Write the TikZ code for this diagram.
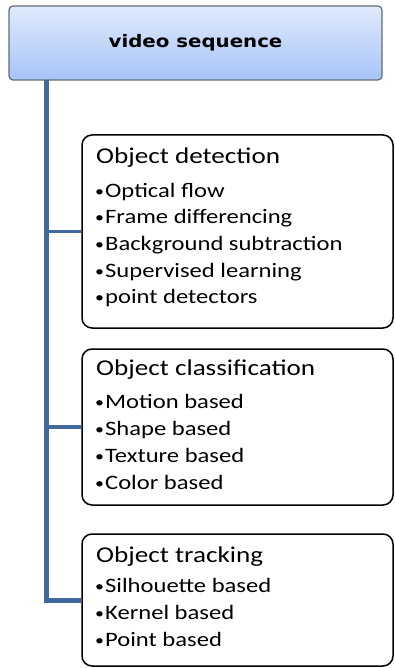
\documentclass[tikz,border=0pt]{standalone}
\usepackage{fontspec}
\setmainfont{Carlito}[FakeStretch=1.2]
\newfontfamily\headfont{DejaVu Sans}[FakeStretch=1.15]
\usetikzlibrary{positioning,calc}
\definecolor{trunk}{HTML}{41699E}
\definecolor{topA}{HTML}{E0EAFC}
\definecolor{topB}{HTML}{A6C4F7}
\definecolor{topEdge}{HTML}{5F6B78}
\tikzset{
  headbox/.style={draw=topEdge, line width=1.2pt, rounded corners=4pt,
    top color=topA, bottom color=topB, minimum width=373pt, minimum height=74pt,
    inner sep=0pt, font=\headfont\bfseries\fontsize{17.2}{20}\selectfont},
  catbox/.style={draw=black, line width=1.5pt, rounded corners=10pt, fill=white,
    minimum width=311pt, inner sep=0pt},
  conn/.style={draw=trunk, line width=5pt},
  branch/.style={draw=trunk, line width=3.8pt},
  ttl/.style={anchor=base west, inner sep=0pt, font=\fontsize{22.6}{24}\selectfont},
  itm/.style={anchor=base west, inner sep=0pt, font=\fontsize{20.5}{24}\selectfont},
}
\newcommand{\bul}{{\fontsize{15}{15}\selectfont\raisebox{1pt}{•}}\hspace{1pt}}
\begin{document}
\begin{tikzpicture}[x=1pt,y=-1pt]
\useasboundingbox (0,0) rectangle (394,668);
% top box
\node[headbox] (video) at (195.5,43) {video sequence};
% category boxes
\node[catbox, minimum height=193pt] (det) at (237.5,231.5) {};
\node[catbox, minimum height=156pt] (cls) at (237.5,427) {};
\node[catbox, minimum height=132pt] (trk) at (237.5,600) {};
% connectors
\coordinate (top) at (46.5,80);
\draw[conn] (top) |- (trk.west);
\draw[branch] (top |- det.west) -- (det.west);
\draw[branch] (top |- cls.west) -- (cls.west);
% detection texts
\node[ttl] (detT) at (96,164) {Object detection};
\node[itm] (d1) at (95,197) {\bul Optical flow};
\node[itm] (d2) at (95,223.5) {\bul Frame differencing};
\node[itm] (d3) at (95,250) {\bul Background subtraction};
\node[itm] (d4) at (95,277) {\bul Supervised learning};
\node[itm] (d5) at (95,303.5) {\bul point detectors};
% classification texts
\node[ttl] (clsT) at (96,375) {Object classification};
\node[itm] (c1) at (95,408) {\bul Motion based};
\node[itm] (c2) at (95,435) {\bul Shape based};
\node[itm] (c3) at (95,462) {\bul Texture based};
\node[itm] (c4) at (95,489) {\bul Color based};
% tracking texts
\node[ttl] (trkT) at (96,562) {Object tracking};
\node[itm] (t1) at (95,592) {\bul Silhouette based};
\node[itm] (t2) at (95,619) {\bul Kernel based};
\node[itm] (t3) at (95,646) {\bul Point based};
\end{tikzpicture}
\end{document}
